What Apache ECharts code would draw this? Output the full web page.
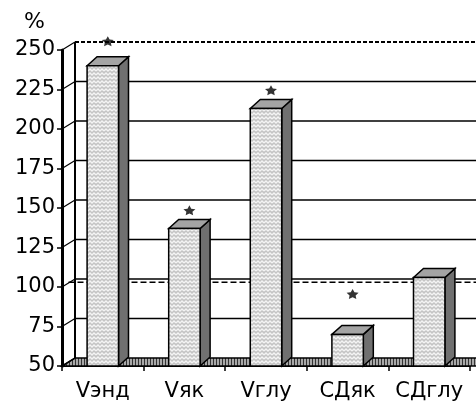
<!DOCTYPE html>
<html><head><meta charset="utf-8">
<script src="https://cdn.jsdelivr.net/npm/echarts@6/dist/echarts.min.js"></script>
<style>html,body{margin:0;padding:0;background:#fff}#c{width:476px;height:403px}</style>
</head><body><div id="c"></div>
<script>
// ---- data ----
const categories = ['Vэнд', 'Vяк', 'Vглу', 'СДяк', 'СДглу'];
const values = [240, 137, 213, 70, 106];
const starValues = [253, 146, 222, 93, null];
const yTicks = [50, 75, 100, 125, 150, 175, 200, 225, 250];
const refValue = 100;
const yMin = 50, yMax = 250, yStep = 25;

// ---- style constants ----
const DX = 13, DY = -8;     // wall depth
const BDX = 10, BDY = -9;   // bar depth
const FONT = '"DejaVu Sans", "Liberation Sans", Arial, sans-serif';

function barPattern() {
  const c = document.createElement('canvas'); c.width = 8; c.height = 8;
  const g = c.getContext('2d');
  g.fillStyle = '#c4c4c4'; g.fillRect(0, 0, 8, 8);
  g.strokeStyle = '#f4f4f4'; g.lineWidth = 1.4;
  g.beginPath();
  for (let r = -1; r < 3; r++) {
    const y = r * 4;
    g.moveTo(0, y + 3); g.lineTo(2, y + 1); g.lineTo(4, y + 3); g.lineTo(6, y + 1); g.lineTo(8, y + 3);
  }
  g.stroke();
  return c;
}
function floorPattern() {
  const c = document.createElement('canvas'); c.width = 3; c.height = 6;
  const g = c.getContext('2d');
  g.fillStyle = '#a8a8a8'; g.fillRect(0, 0, 3, 6);
  g.fillStyle = '#333'; g.fillRect(0, 0, 1, 6);
  return c;
}
const BAR_FILL = { image: barPattern(), repeat: 'repeat' };
const FLOOR_FILL = { image: floorPattern(), repeat: 'repeat' };

const chart = echarts.init(document.getElementById('c'));

const option = {
  animation: false,
  backgroundColor: '#fff',
  grid: { left: 62, top: 50, width: 408, height: 316 },
  graphic: [{ type: 'text', left: 24, top: 11, style: { text: '%', font: '22px ' + FONT, fill: '#000' } }],
  xAxis: {
    type: 'category', data: categories,
    axisLine: { lineStyle: { color: '#000', width: 2 } },
    axisTick: { show: true, length: 5, lineStyle: { color: '#000', width: 1.5 } },
    axisLabel: { color: '#000', fontSize: 21, fontFamily: FONT, margin: 15, interval: 0, hideOverlap: false },
    splitLine: { show: false }
  },
  yAxis: {
    type: 'value', min: yMin, max: yMax, interval: yStep,
    axisLine: { show: true, lineStyle: { color: '#000', width: 3 } },
    axisTick: { show: true, length: 5, lineStyle: { color: '#000', width: 1.5 } },
    axisLabel: { color: '#000', fontSize: 21, fontFamily: FONT, margin: 7 },
    splitLine: { show: false }
  },
  series: [
    { // walls, gridlines, floor
      type: 'custom', z: 1, silent: true,
      data: yTicks.map(v => [0, v]),
      renderItem: function (params, api) {
        const v = api.value(1);
        const cs = params.coordSys;
        const x0 = cs.x, y = api.coord([0, v])[1];
        const right = x0 + cs.width + 40;
        const ch = [];
        if (v === yMin) {
          ch.push({ type: 'polygon', shape: { points: [[x0, y], [right, y], [right, y + DY], [x0 + DX, y + DY]] },
            style: { fill: FLOOR_FILL, stroke: '#000', lineWidth: 1.5 } });
        } else {
          ch.push({ type: 'line', shape: { x1: x0 + DX, y1: y + DY, x2: right, y2: y + DY },
            style: { stroke: '#000', lineWidth: v === yMax ? 2 : 1.5, lineDash: v === yMax ? [4, 2] : null } });
        }
        ch.push({ type: 'line', shape: { x1: x0, y1: y, x2: x0 + DX, y2: y + DY },
          style: { stroke: '#000', lineWidth: 1.3 } });
        if (v === yMax) {
          const yb = api.coord([0, yMin])[1];
          ch.push({ type: 'line', shape: { x1: x0 + DX, y1: y + DY, x2: x0 + DX, y2: yb + DY },
            style: { stroke: '#000', lineWidth: 2 } });
        }
        return { type: 'group', children: ch };
      }
    },
    { // reference line at 100
      type: 'custom', z: 2, silent: true,
      data: [[0, refValue]],
      renderItem: function (params, api) {
        const cs = params.coordSys;
        const y = api.coord([0, api.value(1)])[1] + DY * 0.6;
        return { type: 'line', shape: { x1: cs.x + DX * 0.5, y1: y, x2: cs.x + cs.width + 40, y2: y },
          style: { stroke: '#000', lineWidth: 1.5, lineDash: [6, 3] } };
      }
    },
    { // 3D bars
      type: 'custom', z: 3,
      data: values.map((v, i) => [i, v]),
      renderItem: function (params, api) {
        const i = api.value(0), v = api.value(1);
        const top = api.coord([i, v]);
        const base = api.coord([i, yMin]);
        const band = api.size([1, 0])[0];
        const w = band * 0.385;
        const x = top[0] - w / 2, yt = top[1], yb = base[1];
        return { type: 'group', children: [
          { type: 'polygon', shape: { points: [[x + w, yt], [x + w + BDX, yt + BDY], [x + w + BDX, yb + BDY], [x + w, yb]] },
            style: { fill: '#707070', stroke: '#000', lineWidth: 1.5 } },
          { type: 'polygon', shape: { points: [[x, yt], [x + BDX, yt + BDY], [x + w + BDX, yt + BDY], [x + w, yt]] },
            style: { fill: '#a4a4a4', stroke: '#000', lineWidth: 1.5 } },
          { type: 'rect', shape: { x: x, y: yt, width: w, height: yb - yt },
            style: { fill: BAR_FILL, stroke: '#000', lineWidth: 1.5 } }
        ] };
      }
    },
    { // significance stars
      type: 'scatter', z: 4, silent: true, clip: false,
      data: starValues.map((v, i) => [i, v]).filter(d => d[1] != null),
      symbol: 'path://M0,-10 L2.9,-4 L9.5,-3.1 L4.8,1.5 L5.9,8.1 L0,5 L-5.9,8.1 L-4.8,1.5 L-9.5,-3.1 L-2.9,-4 Z',
      symbolSize: [12, 10],
      symbolOffset: [5, DY / 2],
      itemStyle: { color: '#000' }
    }
  ]
};
chart.setOption(option);
</script>
</body></html>
